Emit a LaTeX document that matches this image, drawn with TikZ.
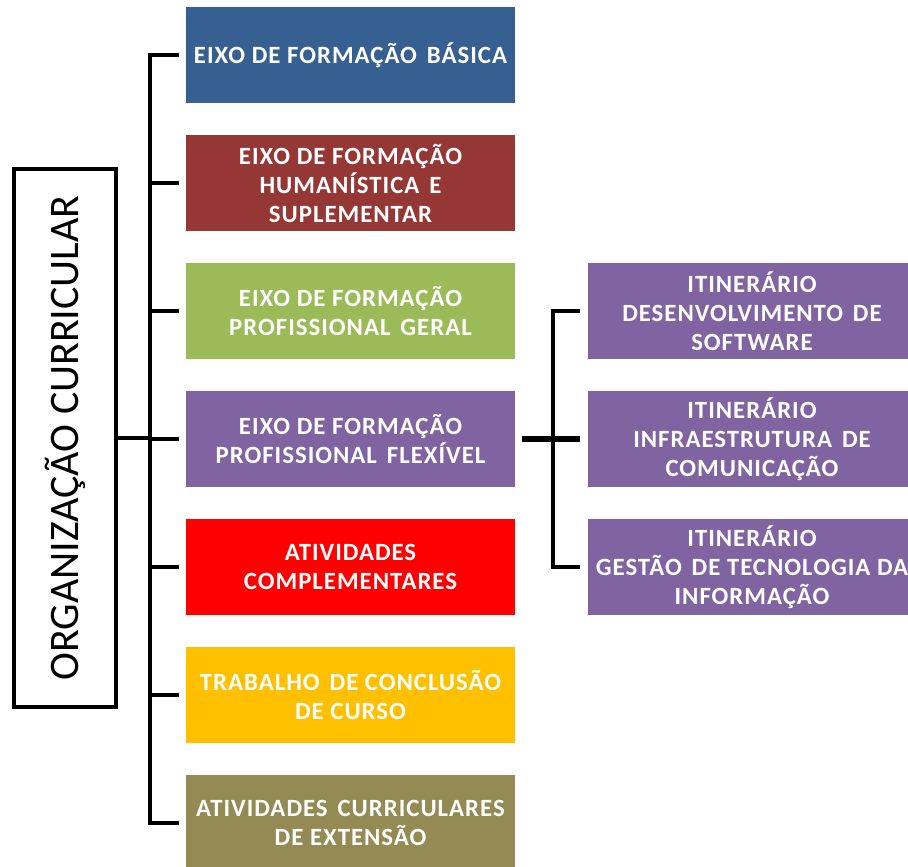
\documentclass[tikz,border=0pt]{standalone}
\usepackage{fontspec}
\setmainfont{Carlito}
\newfontfamily\boxfont{Carlito}[LetterSpace=4]
\usepackage{tikz}

\definecolor{basica}{HTML}{376092}
\definecolor{humana}{HTML}{953735}
\definecolor{geral}{HTML}{9BBB59}
\definecolor{flexivel}{HTML}{8064A2}
\definecolor{ativ}{HTML}{FF0000}
\definecolor{tcc}{HTML}{FFC000}
\definecolor{extensao}{HTML}{948A54}

\newcommand{\wsp}{\hspace{0.4em}}

\tikzset{
  axisbox/.style={minimum width=329, minimum height=96, inner sep=0pt,
    text=white, align=center, font=\boxfont\bfseries\fontsize{24.8}{29}\selectfont},
  tree/.style={line width=4pt, black}
}

\begin{document}
\begin{tikzpicture}[x=1pt, y=-1pt]
   \clip (0,0) rectangle (908,867);
   \fill[white] (0,0) rectangle (908,867);

   \node[draw, line width=4.5pt, rotate=90, minimum width=538, minimum height=102,
     font=\fontsize{42}{46}\selectfont] (org) at (65,438) {ORGANIZAÇÃO CURRICULAR};

   \node[axisbox, fill=basica] (b1) at (350.5,55) {EIXO DE FORMAÇÃO\wsp BÁSICA};
   \node[axisbox, fill=humana] (b2) at (350.5,183) {EIXO DE FORMAÇÃO\\HUMANÍSTICA\wsp E\\SUPLEMENTAR};
   \node[axisbox, fill=geral] (b3) at (350.5,311) {EIXO DE FORMAÇÃO\\PROFISSIONAL\wsp GERAL};
   \node[axisbox, fill=flexivel] (b4) at (350.5,439) {EIXO DE FORMAÇÃO\\PROFISSIONAL\wsp FLEXÍVEL};
   \node[axisbox, fill=ativ] (b5) at (350.5,567) {ATIVIDADES\\COMPLEMENTARES};
   \node[axisbox, fill=tcc] (b6) at (350.5,695) {TRABALHO\wsp DE CONCLUSÃO\\DE CURSO};
   \node[axisbox, fill=extensao] (b7) at (350.5,823) {ATIVIDADES\wsp CURRICULARES\\DE EXTENSÃO};

   \node[axisbox, fill=flexivel] (t1) at (752,311) {ITINERÁRIO\\DESENVOLVIMENTO\wsp DE\\SOFTWARE};
   \node[axisbox, fill=flexivel] (t2) at (752,439) {ITINERÁRIO\\INFRAESTRUTURA\wsp DE\\COMUNICAÇÃO};
   \node[axisbox, fill=flexivel] (t3) at (752,567) {ITINERÁRIO\\GESTÃO\wsp DE TECNOLOGIA DA\\INFORMAÇÃO};

   \coordinate (spine) at (150,0);
   \coordinate (rspine) at (553,0);

   \draw[tree] ([xshift=-7]b1.west) -| (b7.west -| spine) -- ([xshift=-7]b7.west);
   \draw[tree] (b2.west -| spine) -- ([xshift=-7]b2.west);
   \draw[tree] (b3.west -| spine) -- ([xshift=-7]b3.west);
   \draw[tree] (b4.west -| spine) -- ([xshift=-7]b4.west);
   \draw[tree] (b5.west -| spine) -- ([xshift=-7]b5.west);
   \draw[tree] (b6.west -| spine) -- ([xshift=-7]b6.west);
   \draw[tree] (org.south) -- (org.south -| spine);

   \draw[tree] ([xshift=-7]t1.west) -| (t3.west -| rspine) -- ([xshift=-7]t3.west);
   \draw[tree, line width=6pt] ([xshift=7]b4.east) -- ([xshift=-7]t2.west);
\end{tikzpicture}
\end{document}
